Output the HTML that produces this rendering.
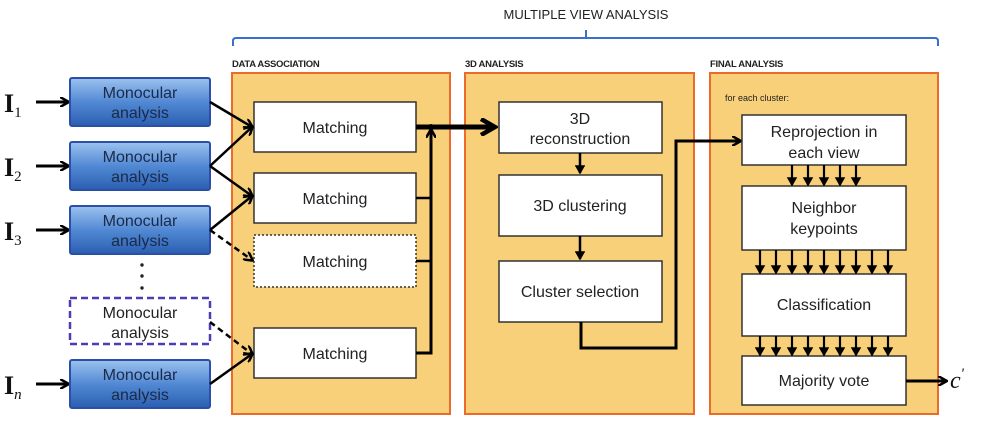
<!DOCTYPE html>
<html><head><meta charset="utf-8"><style>
body{margin:0;background:#fff;}
svg text{font-family:"Liberation Sans",sans-serif;}
</style></head><body>
<svg width="984" height="426" viewBox="0 0 984 426" xmlns="http://www.w3.org/2000/svg">
<defs>
<linearGradient id="bl" x1="0" y1="0" x2="0" y2="1">
<stop offset="0" stop-color="#9cc2ef"/><stop offset="0.5" stop-color="#5289d4"/><stop offset="1" stop-color="#2a5fb0"/>
</linearGradient>
<marker id="ah" markerWidth="10" markerHeight="10" refX="8" refY="5" orient="auto" markerUnits="userSpaceOnUse">
<path d="M0,0 L9,5 L0,10" fill="none" stroke="#000" stroke-width="2.5"/></marker>
<marker id="ahs" markerWidth="10" markerHeight="10" refX="8" refY="5" orient="auto" markerUnits="userSpaceOnUse">
<path d="M1,1 L8,5 L1,9 Z" fill="#000" stroke="#000" stroke-width="1.5"/></marker>
<marker id="ahb" markerWidth="18" markerHeight="18" refX="15" refY="9" orient="auto" markerUnits="userSpaceOnUse">
<path d="M1,1 L15,9 L1,17" fill="none" stroke="#000" stroke-width="4.5"/></marker>
</defs>

<text x="586" y="19" font-size="13" text-anchor="middle" fill="#222">MULTIPLE VIEW ANALYSIS</text>
<path d="M233,46 V41 Q233,38 236,38 H935 Q938,38 938,41 V46 M586,38 V30" fill="none" stroke="#3a6fd0" stroke-width="2"/>

<g font-size="9.5" fill="#222" font-weight="bold" letter-spacing="-0.3">
<text x="232" y="67">DATA ASSOCIATION</text>
<text x="465" y="67">3D ANALYSIS</text>
<text x="710" y="67">FINAL ANALYSIS</text>
</g>
<g fill="#f8d07a" stroke="#ec6a2a" stroke-width="2">
<rect x="232" y="73" width="218" height="341"/>
<rect x="465" y="73" width="229" height="341"/>
<rect x="710" y="73" width="228" height="341"/>
</g>

<g font-size="26" font-weight="bold" fill="#111">
<text x="4" y="112" style="font-family:'Liberation Serif',serif">I<tspan font-size="15" font-weight="normal" dy="5">1</tspan></text>
<text x="4" y="176" style="font-family:'Liberation Serif',serif">I<tspan font-size="15" font-weight="normal" dy="5">2</tspan></text>
<text x="4" y="240" style="font-family:'Liberation Serif',serif">I<tspan font-size="15" font-weight="normal" dy="5">3</tspan></text>
<text x="4" y="394" style="font-family:'Liberation Serif',serif">I<tspan font-size="15" font-weight="normal" font-style="italic" dy="5">n</tspan></text>
</g>
<g stroke="#000" stroke-width="3" marker-end="url(#ah)">
<line x1="36" y1="102" x2="68" y2="102"/>
<line x1="36" y1="166" x2="68" y2="166"/>
<line x1="36" y1="230" x2="68" y2="230"/>
<line x1="36" y1="384" x2="68" y2="384"/>
</g>

<g stroke="#2b4fa8" stroke-width="2">
<rect x="70" y="78" width="140" height="48" rx="2" fill="url(#bl)"/>
<rect x="70" y="142" width="140" height="48" rx="2" fill="url(#bl)"/>
<rect x="70" y="206" width="140" height="48" rx="2" fill="url(#bl)"/>
<rect x="70" y="298" width="140" height="46" fill="#fff" stroke="#4a3fb0" stroke-dasharray="7,4" stroke-width="2.5"/>
<rect x="70" y="360" width="140" height="48" rx="2" fill="url(#bl)"/>
</g>
<g font-size="16" text-anchor="middle" fill="#1a2a4a">
<text x="140" y="98">Monocular</text><text x="140" y="118">analysis</text>
<text x="140" y="162">Monocular</text><text x="140" y="182">analysis</text>
<text x="140" y="226">Monocular</text><text x="140" y="246">analysis</text>
<text x="140" y="318" fill="#222">Monocular</text><text x="140" y="338" fill="#222">analysis</text>
<text x="140" y="380">Monocular</text><text x="140" y="400">analysis</text>
</g>
<g fill="#222"><circle cx="142" cy="265" r="1.7"/><circle cx="142" cy="276" r="1.7"/><circle cx="142" cy="288" r="1.7"/></g>

<g fill="#fff" stroke="#333" stroke-width="1.5">
<rect x="254" y="102" width="162" height="50"/>
<rect x="254" y="173" width="162" height="50"/>
<rect x="254" y="235" width="162" height="52" stroke-dasharray="2,2"/>
<rect x="254" y="328" width="162" height="50"/>
</g>
<g font-size="16" text-anchor="middle" fill="#222">
<text x="335" y="133">Matching</text><text x="335" y="204">Matching</text>
<text x="335" y="267">Matching</text><text x="335" y="359">Matching</text>
</g>
<g stroke="#000" stroke-width="2.5" fill="none">
<line x1="210" y1="102" x2="252" y2="127" marker-end="url(#ah)"/>
<line x1="210" y1="166" x2="252" y2="127" marker-end="url(#ah)"/>
<line x1="210" y1="166" x2="252" y2="196" marker-end="url(#ah)"/>
<line x1="210" y1="230" x2="252" y2="196" marker-end="url(#ah)"/>
<line x1="210" y1="230" x2="252" y2="260" stroke-dasharray="6,4" marker-end="url(#ah)"/>
<line x1="210" y1="322" x2="252" y2="354" stroke-dasharray="6,4" marker-end="url(#ah)"/>
<line x1="210" y1="384" x2="252" y2="354" marker-end="url(#ah)"/>
<path d="M416,353 H431 V130" stroke-width="3" marker-end="url(#ah)"/>
<path d="M416,198 H431 M416,261 H431"/>
<line x1="416" y1="127" x2="495" y2="127" stroke-width="5" marker-end="url(#ahb)"/>
</g>
<circle cx="431" cy="127" r="3" fill="#000"/>

<g fill="#fff" stroke="#333" stroke-width="1.5">
<rect x="499" y="102" width="163" height="51"/>
<rect x="499" y="175" width="163" height="61"/>
<rect x="499" y="261" width="163" height="61"/>
</g>
<g font-size="16" text-anchor="middle" fill="#222">
<text x="580" y="124">3D</text><text x="580" y="144">reconstruction</text>
<text x="580" y="211">3D clustering</text>
<text x="580" y="297">Cluster selection</text>
</g>
<g stroke="#000" stroke-width="2.5" fill="none">
<line x1="580" y1="153" x2="580" y2="173" marker-end="url(#ahs)"/>
<line x1="580" y1="236" x2="580" y2="259" marker-end="url(#ahs)"/>
<path d="M581,322 V348 H676 V141 H740" stroke-width="3" marker-end="url(#ah)"/>
</g>

<text x="725" y="101" font-size="9" fill="#222">for each cluster:</text>
<g fill="#fff" stroke="#333" stroke-width="1.5">
<rect x="742" y="115" width="164" height="50"/>
<rect x="742" y="186" width="164" height="64"/>
<rect x="742" y="274" width="164" height="62"/>
<rect x="742" y="356" width="164" height="49"/>
</g>
<g font-size="16" text-anchor="middle" fill="#222">
<text x="824" y="137">Reprojection in</text><text x="824" y="158">each view</text>
<text x="824" y="213">Neighbor</text><text x="824" y="234">keypoints</text>
<text x="824" y="310">Classification</text>
<text x="824" y="386">Majority vote</text>
</g>
<g stroke="#000" stroke-width="2.2" marker-end="url(#ahs)">
<line x1="792" y1="165" x2="792" y2="185"/><line x1="808" y1="165" x2="808" y2="185"/>
<line x1="824" y1="165" x2="824" y2="185"/><line x1="840" y1="165" x2="840" y2="185"/>
<line x1="856" y1="165" x2="856" y2="185"/>
<line x1="760" y1="250" x2="760" y2="273"/><line x1="776" y1="250" x2="776" y2="273"/>
<line x1="792" y1="250" x2="792" y2="273"/><line x1="808" y1="250" x2="808" y2="273"/>
<line x1="824" y1="250" x2="824" y2="273"/><line x1="840" y1="250" x2="840" y2="273"/>
<line x1="856" y1="250" x2="856" y2="273"/><line x1="872" y1="250" x2="872" y2="273"/>
<line x1="888" y1="250" x2="888" y2="273"/>
<line x1="760" y1="336" x2="760" y2="355"/><line x1="776" y1="336" x2="776" y2="355"/>
<line x1="792" y1="336" x2="792" y2="355"/><line x1="808" y1="336" x2="808" y2="355"/>
<line x1="824" y1="336" x2="824" y2="355"/><line x1="840" y1="336" x2="840" y2="355"/>
<line x1="856" y1="336" x2="856" y2="355"/><line x1="872" y1="336" x2="872" y2="355"/>
<line x1="888" y1="336" x2="888" y2="355"/>
</g>
<line x1="906" y1="381" x2="946" y2="381" stroke="#000" stroke-width="3" marker-end="url(#ah)"/>
<text x="950" y="388" font-size="24" font-style="italic" fill="#111" style="font-family:'Liberation Serif',serif">c<tspan font-size="15" dy="-10">'</tspan></text>
</svg>
</body></html>
